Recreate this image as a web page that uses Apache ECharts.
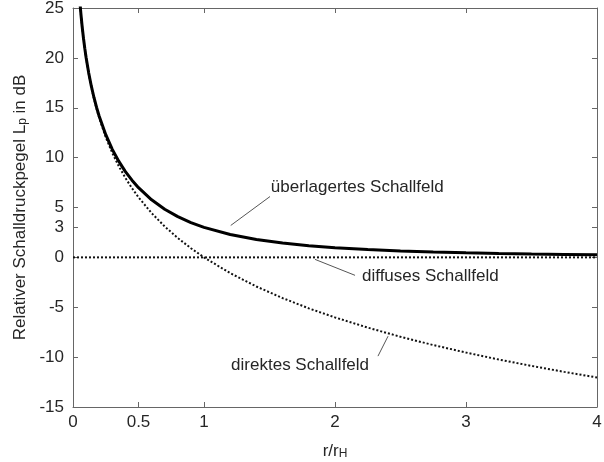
<!DOCTYPE html>
<html>
<head>
<meta charset="utf-8">
<script src="https://cdn.jsdelivr.net/npm/echarts@6/dist/echarts.min.js"></script>
<style>
html, body { margin: 0; padding: 0; background: #fff; }
#chart { width: 604px; height: 462px; }
</style>
</head>
<body>
<div id="chart"></div>
<script>
// r/rH
var ratio = [0.05, 0.06, 0.07, 0.08, 0.09, 0.1, 0.12, 0.14, 0.16, 0.18, 0.2, 0.25, 0.3, 0.35, 0.4, 0.45, 0.5,
    0.6, 0.7, 0.8, 0.9, 1.0, 1.2, 1.4, 1.6, 1.8, 2.0, 2.25, 2.5, 2.75, 3.0, 3.25, 3.5, 3.75, 4.0];
// überlagertes Schallfeld (dB)
var overlay = [26.03, 24.45, 23.12, 21.97, 20.95, 20.04, 18.48, 17.16, 16.03, 15.03, 14.15, 12.30, 10.83, 9.62, 8.60, 7.74, 6.99,
    5.77, 4.83, 4.09, 3.49, 3.01, 2.29, 1.79, 1.43, 1.17, 0.97, 0.78, 0.64, 0.54, 0.46, 0.39, 0.34, 0.30, 0.26];
// direktes Schallfeld (dB)
var direct = [26.02, 24.44, 23.10, 21.94, 20.92, 20.0, 18.42, 17.08, 15.92, 14.89, 13.98, 12.04, 10.46, 9.12, 7.96, 6.94, 6.02,
    4.44, 3.10, 1.94, 0.92, 0, -1.58, -2.92, -4.08, -5.11, -6.02, -7.04, -7.96, -8.79, -9.54, -10.24, -10.88, -11.48, -12.04];
// diffuses Schallfeld (dB)
var diffuseX = [0, 4];
var diffuse = [0, 0];

var xTicks = [0, 0.5, 1, 2, 3, 4];
var yTicks = [-15, -10, -5, 0, 3, 5, 10, 15, 20, 25];

// Beschriftungen: Text, Linie von -> bis (Datenkoordinaten), Textanker
var noteText = ['überlagertes Schallfeld', 'diffuses Schallfeld', 'direktes Schallfeld'];
var noteFrom = [[1.204, 3.2], [1.847, -0.2], [2.328, -9.9]];
var noteTo = [[1.504, 6.1], [2.153, -1.8], [2.405, -7.9]];
var noteAt = [[1.51, 7.0], [2.206, -1.85], [2.26, -10.8]];
var noteAlign = ['left', 'left', 'right'];

function pairs(xs, ys) {
    return xs.map(function (x, i) { return [x, ys[i]]; });
}

var font = 'Liberation Sans, Arial, sans-serif';
var fs = 17;
var frame = '#666';
var txt = '#262626';

var chart = echarts.init(document.getElementById('chart'));

function boxAxis(extra) {
    var ax = {
        type: 'value',
        axisLine: { show: true, onZero: false, lineStyle: { color: frame, width: 1 } },
        axisTick: { show: true, inside: true, length: 5, lineStyle: { color: frame } },
        splitLine: { show: false }
    };
    for (var k in extra) ax[k] = extra[k];
    return ax;
}

var nameRich = {
    a: { fontFamily: font, fontSize: fs, color: txt, lineHeight: 17, verticalAlign: 'top' },
    b: { fontFamily: font, fontSize: 12, color: txt, lineHeight: 12, padding: [12, 0, 0, 0], verticalAlign: 'bottom' }
};

chart.setOption({
    animation: false,
    grid: { left: 73, right: 7, top: 8, bottom: 55, containLabel: false, outerBoundsMode: 'none' },
    xAxis: [
        boxAxis({
            min: 0, max: 4, interval: 0.5, position: 'bottom',
            axisTick: { show: true, inside: true, length: 5, customValues: xTicks, lineStyle: { color: frame } },
            axisLabel: { customValues: xTicks, margin: 7, color: txt, fontFamily: font, fontSize: fs },
            name: '{a|r/r}{b|H}',
            nameLocation: 'middle',
            nameGap: 28,
            nameTextStyle: { rich: nameRich }
        }),
        boxAxis({
            min: 0, max: 4, interval: 0.5, position: 'top',
            axisTick: { show: true, inside: true, length: 5, customValues: xTicks, lineStyle: { color: frame } },
            axisLabel: { show: false }
        })
    ],
    yAxis: [
        boxAxis({
            min: -15, max: 25, interval: 5, position: 'left',
            axisTick: { show: true, inside: true, length: 5, customValues: yTicks, lineStyle: { color: frame } },
            axisLabel: { customValues: yTicks, margin: 9, color: txt, fontFamily: font, fontSize: fs },
            name: '{a|Relativer Schalldruckpegel L}{b|p}{a| in dB}',
            nameLocation: 'middle',
            nameGap: 39,
            nameTextStyle: { rich: nameRich }
        }),
        boxAxis({
            min: -15, max: 25, interval: 5, position: 'right',
            axisTick: { show: true, inside: true, length: 5, customValues: yTicks, lineStyle: { color: frame } },
            axisLabel: { show: false }
        })
    ],
    series: [
        {
            name: 'diffuses Schallfeld', type: 'line', showSymbol: false, symbol: 'none',
            data: pairs(diffuseX, diffuse),
            lineStyle: { color: '#111', width: 2, type: 'dotted' }
        },
        {
            name: 'direktes Schallfeld', type: 'line', showSymbol: false, symbol: 'none',
            data: pairs(ratio, direct),
            lineStyle: { color: '#111', width: 2, type: 'dotted' }
        },
        {
            name: 'überlagertes Schallfeld', type: 'line', showSymbol: false, symbol: 'none',
            data: pairs(ratio, overlay),
            lineStyle: { color: '#000', width: 3 }
        }
    ]
});

// Beschriftungen mit Hinweislinien
var els = [];
noteText.forEach(function (t, i) {
    var p1 = chart.convertToPixel({ gridIndex: 0 }, noteFrom[i]);
    var p2 = chart.convertToPixel({ gridIndex: 0 }, noteTo[i]);
    var pt = chart.convertToPixel({ gridIndex: 0 }, noteAt[i]);
    els.push({
        type: 'line',
        shape: { x1: p1[0], y1: p1[1], x2: p2[0], y2: p2[1] },
        style: { stroke: '#555', lineWidth: 1 }
    });
    els.push({
        type: 'text',
        x: pt[0], y: pt[1],
        style: {
            text: t, fill: txt, font: fs + 'px ' + font,
            textAlign: noteAlign[i], textVerticalAlign: 'middle'
        }
    });
});
chart.setOption({ graphic: els });
</script>
</body>
</html>
